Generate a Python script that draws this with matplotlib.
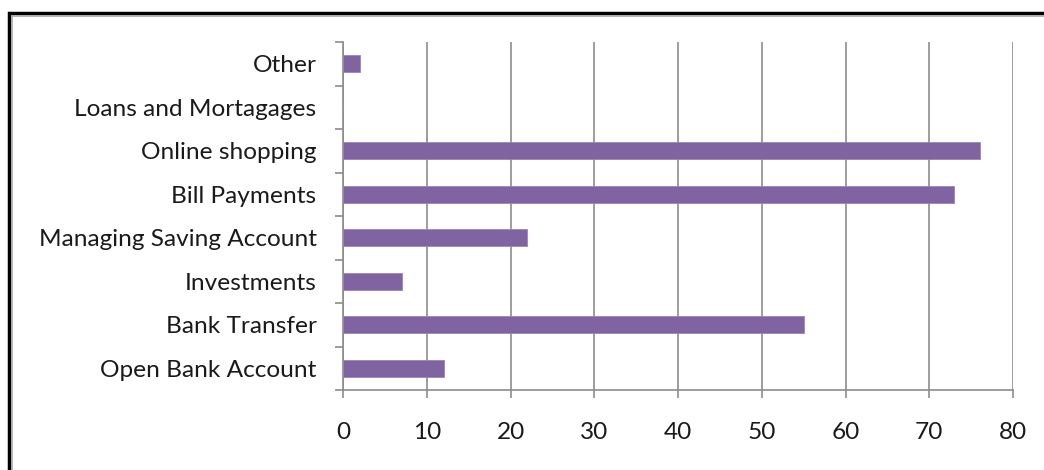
import matplotlib as mpl

mpl.use('Agg')
import matplotlib.pyplot as plt
from matplotlib.patches import Rectangle
import numpy as np

categories = ["Open Bank Account", "Bank Transfer", "Investments",
              "Managing Saving Account", "Bill Payments", "Online shopping",
              "Loans and Mortagages", "Other"]
values = [12, 55, 7, 22, 73, 76, 0, 2]
x_ticks = [0, 10, 20, 30, 40, 50, 60, 70, 80]

plt.rcParams['font.family'] = ['Lato', 'DejaVu Sans']

W, H = 1044, 470
fig = plt.figure(figsize=(W / 100, H / 100), dpi=100)

# outer frame (only top and left edges fall inside the canvas)
fig.patches.append(Rectangle((9 / W, -0.2), 1.2, 1.2 - 13 / H, transform=fig.transFigure,
                             fill=False, edgecolor='black', linewidth=2.5))
fig.patches.append(Rectangle((11.5 / W, -0.2), 1.2, 1.2 - 15.5 / H, transform=fig.transFigure,
                             fill=False, edgecolor='#a6a6a6', linewidth=1.2))

ax = fig.add_axes([343 / W, 1 - 390 / H, (1013 - 343) / W, (390 - 42) / H])

y = np.arange(len(categories))
ax.barh(y, values, height=0.4, color='#8064a2', edgecolor='#9a84b8', linewidth=0.6, zorder=3)

ax.set_xlim(0, 80)
ax.set_ylim(-0.5, len(categories) - 0.5)
ax.set_xticks(x_ticks)
ax.set_xticklabels([str(t) for t in x_ticks])
ax.set_yticks(y)
ax.set_yticklabels(categories)
ax.set_yticks(np.arange(-0.5, len(categories), 1), minor=True)

ax.grid(axis='x', color='#8c8c8c', linewidth=1.2, zorder=0)
for side in ['top', 'right']:
    ax.spines[side].set_visible(False)
for side in ['left', 'bottom']:
    ax.spines[side].set_color('#8c8c8c')
    ax.spines[side].set_linewidth(1.2)

ax.tick_params(axis='y', which='major', length=0, pad=19, labelsize=17.6, labelcolor='#1a1a1a')
ax.tick_params(axis='y', which='minor', length=6, color='#8c8c8c', width=1.2)
ax.tick_params(axis='x', length=6, color='#8c8c8c', width=1.2, pad=17, labelsize=17.6,
               labelcolor='#1a1a1a')

fig.savefig('out.png', dpi=100)
